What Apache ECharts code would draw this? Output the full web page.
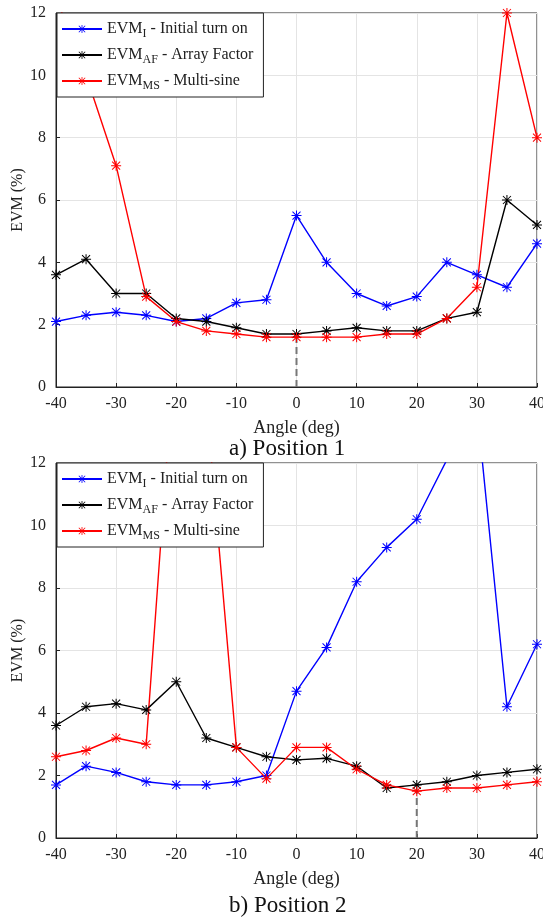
<!DOCTYPE html>
<html>
<head>
<meta charset="utf-8">
<script src="https://cdn.jsdelivr.net/npm/echarts@6/dist/echarts.min.js"></script>
<style>
  html, body { margin: 0; padding: 0; background: #fff; }
  #main { width: 543px; height: 919px; }
</style>
</head>
<body>
<div id="main"></div>
<script>
// angles (deg)
const angles = [-40, -35, -30, -25, -20, -15, -10, -5, 0, 5, 10, 15, 20, 25, 30, 35, 40];
const yTicks = [0, 2, 4, 6, 8, 10, 12];

// a) Position 1
const pos1Initial = [2.1, 2.3, 2.4, 2.3, 2.1, 2.2, 2.7, 2.8, 5.5, 4.0, 3.0, 2.6, 2.9, 4.0, 3.6, 3.2, 4.6];
const pos1ArrayFactor = [3.6, 4.1, 3.0, 3.0, 2.2, 2.1, 1.9, 1.7, 1.7, 1.8, 1.9, 1.8, 1.8, 2.2, 2.4, 6.0, 5.2];
const pos1MultiSine = [12.5, 10.0, 7.1, 2.9, 2.1, 1.8, 1.7, 1.6, 1.6, 1.6, 1.6, 1.7, 1.7, 2.2, 3.2, 12.0, 8.0];
const pos1Marker = [[0, 0], [0, 1.6]];

// b) Position 2
const pos2Initial = [1.7, 2.3, 2.1, 1.8, 1.7, 1.7, 1.8, 2.0, 4.7, 6.1, 8.2, 9.3, 10.2, 12.1, 13.8, 4.2, 6.2];
const pos2ArrayFactor = [3.6, 4.2, 4.3, 4.1, 5.0, 3.2, 2.9, 2.6, 2.5, 2.55, 2.3, 1.6, 1.7, 1.8, 2.0, 2.1, 2.2];
const pos2MultiSine = [2.6, 2.8, 3.2, 3.0, 16.3, 14.0, 2.9, 1.9, 2.9, 2.9, 2.2, 1.7, 1.5, 1.6, 1.6, 1.7, 1.8];
const pos2Marker = [[20, 0], [20, 1.5]];

const legendLabels = {
  I: ['I', ' - Initial turn on'],
  AF: ['AF', ' - Array Factor'],
  MS: ['MS', ' - Multi-sine']
};

const FONT = '"Liberation Serif", "DejaVu Serif", serif';
const STAR = 'path://M9 0L11 0L11 20L9 20Z M0 9L20 9L20 11L0 11Z ' +
  'M2.7 1.3L18.7 17.3L17.3 18.7L1.3 2.7Z M17.3 1.3L18.7 2.7L2.7 18.7L1.3 17.3Z';

const pair = (ys) => angles.map((a, i) => [a, ys[i]]);

function lineSeries(name, ys, color, idx) {
  return {
    name: name,
    type: 'line',
    xAxisIndex: idx,
    yAxisIndex: idx,
    data: pair(ys),
    symbol: STAR,
    symbolSize: 10,
    showAllSymbol: true,
    clip: true,
    lineStyle: { color: color, width: 1.4 },
    itemStyle: { color: color },
    emphasis: { disabled: true },
    z: 3
  };
}

function markerSeries(pts, idx) {
  return {
    type: 'line',
    xAxisIndex: idx,
    yAxisIndex: idx,
    data: pts,
    symbol: 'none',
    lineStyle: { color: '#777', width: 2, type: [7, 4] },
    z: 2
  };
}

function xAxis(idx) {
  return {
    type: 'value', gridIndex: idx, min: -40, max: 40, interval: 10,
    name: 'Angle (deg)', nameLocation: 'middle', nameGap: 32, nameMoveOverlap: false,
    nameTextStyle: { fontFamily: FONT, fontSize: 18, color: '#222' },
    axisLine: { onZero: false, lineStyle: { color: '#222' } },
    axisTick: { inside: true, length: 4, lineStyle: { color: '#222' } },
    axisLabel: { fontFamily: FONT, fontSize: 16, color: '#222', margin: 9 },
    splitLine: { show: true, lineStyle: { color: '#e4e4e4' } }
  };
}

function yAxis(idx) {
  return {
    type: 'value', gridIndex: idx, min: yTicks[0], max: yTicks[yTicks.length - 1], interval: 2,
    name: 'EVM (%)', nameLocation: 'middle', nameGap: 30, nameMoveOverlap: false,
    nameTextStyle: { fontFamily: FONT, fontSize: 16, color: '#222' },
    axisLine: { show: true, onZero: false, lineStyle: { color: '#222' } },
    axisTick: { show: true, inside: true, length: 4, lineStyle: { color: '#222' } },
    axisLabel: { fontFamily: FONT, fontSize: 16, color: '#222', margin: 10 },
    splitLine: { show: true, lineStyle: { color: '#e4e4e4' } }
  };
}

function legend(top, names) {
  return {
    top: top, left: 57,
    orient: 'vertical',
    data: names,
    backgroundColor: '#fff',
    borderColor: '#222',
    borderWidth: 1,
    borderRadius: 0,
    padding: [5, 10, 5, 4],
    itemGap: 4,
    itemWidth: 40,
    itemHeight: 10,
    selectedMode: false,
    formatter: (n) => {
      const l = legendLabels[n.replace(/\d$/, '')];
      return '{m|EVM}{s|' + l[0] + '}{m|' + l[1] + '}';
    },
    textStyle: {
      rich: {
        m: { fontFamily: FONT, fontSize: 16, color: '#222', lineHeight: 21 },
        s: { fontFamily: FONT, fontSize: 12, color: '#222', padding: [10, 0, 0, 0], lineHeight: 21 }
      }
    },
    z: 10
  };
}

const chart = echarts.init(document.getElementById('main'), null, { renderer: 'canvas' });

chart.setOption({
  animation: false,
  backgroundColor: '#fff',
  grid: [
    { left: 56, right: 6, top: 13, height: 374, show: true, borderColor: '#222', borderWidth: 1,
      backgroundColor: 'transparent', outerBoundsMode: 'none', containLabel: false },
    { left: 56, right: 6, top: 463, height: 375, show: true, borderColor: '#222', borderWidth: 1,
      backgroundColor: 'transparent', outerBoundsMode: 'none', containLabel: false }
  ],
  xAxis: [xAxis(0), xAxis(1)],
  yAxis: [yAxis(0), yAxis(1)],
  legend: [legend(13, ['I1', 'AF1', 'MS1']), legend(463, ['I2', 'AF2', 'MS2'])],
  title: [
    { text: 'a) Position 1', left: 224, top: 432, textStyle: { fontFamily: FONT, fontSize: 23, fontWeight: 'normal', color: '#111' } },
    { text: 'b) Position 2', left: 224, top: 889, textStyle: { fontFamily: FONT, fontSize: 23, fontWeight: 'normal', color: '#111' } }
  ],
  series: [
    markerSeries(pos1Marker, 0),
    lineSeries('I1', pos1Initial, '#0000ff', 0),
    lineSeries('AF1', pos1ArrayFactor, '#000000', 0),
    lineSeries('MS1', pos1MultiSine, '#ff0000', 0),
    markerSeries(pos2Marker, 1),
    lineSeries('I2', pos2Initial, '#0000ff', 1),
    lineSeries('AF2', pos2ArrayFactor, '#000000', 1),
    lineSeries('MS2', pos2MultiSine, '#ff0000', 1)
  ]
});
</script>
</body>
</html>
